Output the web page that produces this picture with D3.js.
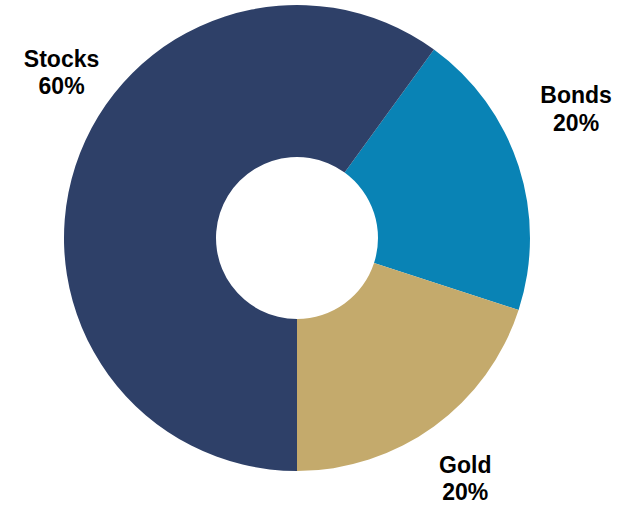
<!DOCTYPE html>
<html>
<head>
<meta charset="utf-8">
<script src="https://cdn.jsdelivr.net/npm/d3@7"></script>
<style>
  body { margin: 0; background: #fff; }
  svg { display: block; }
</style>
</head>
<body>
<svg id="chart" width="639" height="505"></svg>
<script>
// chart data
const categories = ["Bonds", "Gold", "Stocks"];
const shares = [20, 20, 60];
const shareLabels = ["20%", "20%", "60%"];
const colors = ["#0983B5", "#C4AA6C", "#2E4068"];

let svg = d3.select("#chart");

let cx = 297, cy = 238;
let rOuter = 233, rInner = 81;

// label placement (angle in degrees clockwise from top, distance to first baseline)
let labelPos = {
    Bonds: { a: 64.2, r: 310 },
    Gold: { a: 144.4, r: 289 },
    Stocks: { a: 306, r: 291 },
};

let pie = d3
    .pie()
    .sort(null)
    .value((d, i) => shares[i])
    .startAngle((36 * Math.PI) / 180)
    .endAngle((396 * Math.PI) / 180);

let arcs = pie(categories);

let arcMkr = d3.arc().innerRadius(rInner).outerRadius(rOuter);

let g = svg.append("g").attr("transform", "translate(" + cx + "," + cy + ")");

g.selectAll("path")
    .data(arcs)
    .enter()
    .append("path")
    .attr("d", arcMkr)
    .attr("fill", (d, i) => colors[i]);

let labels = g
    .selectAll("text")
    .data(arcs)
    .enter()
    .append("text")
    .attr("text-anchor", "middle")
    .attr("font-family", "'Liberation Sans', Arial, sans-serif")
    .attr("font-weight", "bold")
    .attr("font-size", 23)
    .attr("fill", "#000")
    .attr("transform", (d, i) => {
        let p = labelPos[categories[i]];
        let a = (p.a * Math.PI) / 180;
        return "translate(" + p.r * Math.sin(a) + "," + -p.r * Math.cos(a) + ")";
    });

labels.append("tspan").attr("x", 0).attr("y", 0).text((d, i) => categories[i]);
labels.append("tspan").attr("x", 0).attr("y", 27.5).text((d, i) => shareLabels[i]);
</script>
</body>
</html>
